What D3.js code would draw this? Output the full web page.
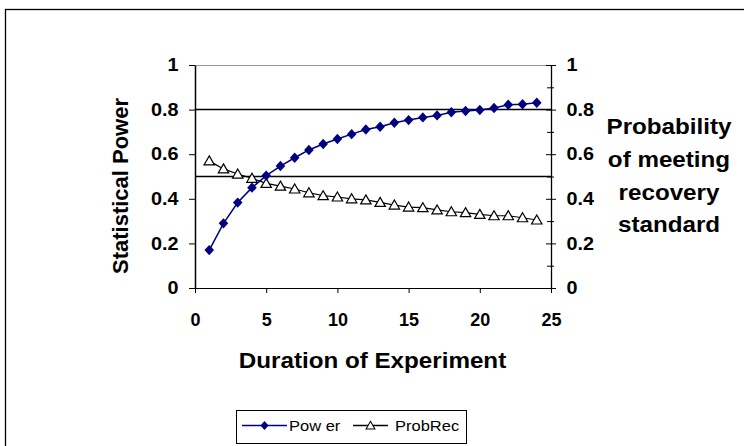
<html>
<head>
    <script src="https://d3js.org/d3.v7.min.js"></script>
    <style type="text/css">
        body { margin: 0; background: #fff; }
        text { font-family: Arial, "Liberation Sans", sans-serif; fill: #000; }
        .tick text { font-size: 18px; font-weight: bold; }
        .domain { stroke: #000; }
    </style>
</head>
<body>
    <svg></svg>
    <script>
        // values
        const durations = d3.range(1, 25);
        const power = [0.170, 0.290, 0.383, 0.450, 0.504, 0.547, 0.584, 0.619, 0.646, 0.668, 0.690, 0.711,
                       0.723, 0.741, 0.753, 0.765, 0.774, 0.788, 0.794, 0.798, 0.807, 0.822, 0.824, 0.831];
        const probRec = [0.570, 0.534, 0.511, 0.492, 0.469, 0.457, 0.444, 0.427, 0.414, 0.408, 0.400, 0.395,
                         0.384, 0.372, 0.363, 0.360, 0.350, 0.342, 0.338, 0.330, 0.324, 0.324, 0.315, 0.305];
        const refLines = [0.8, 0.5];
        const xTicks = [0, 5, 10, 15, 20, 25];
        const yTicks = [0, 0.2, 0.4, 0.6, 0.8, 1];
        const yMinor = [0.1, 0.3, 0.5, 0.7, 0.9];
        const seriesNames = ["Pow er", "ProbRec"];

        const W = 744, H = 446, stretch = 1.1;
        const L = 195, R = 551, T = 65, B = 288;

        const svg = d3.select("svg").attr("width", W).attr("height", H);

        // outer chart border
        svg.append("rect")
            .attr("x", 5.5).attr("y", 9.5).attr("width", 800).attr("height", 500)
            .attr("fill", "#fff").attr("stroke", "#000").attr("stroke-width", 1.3);

        const x = d3.scaleLinear().domain([0, 25]).range([L, R]);
        const y = d3.scaleLinear().domain([0, 1]).range([B, T]);

        // top border of plot area
        svg.append("line")
            .attr("x1", L).attr("x2", R).attr("y1", T + 0.5).attr("y2", T + 0.5)
            .attr("stroke", "#999");

        // horizontal reference lines
        svg.selectAll("line.ref")
            .data(refLines)
            .enter()
            .append("line").classed("ref", true)
                .attr("x1", L).attr("x2", R)
                .attr("y1", (d) => y(d)).attr("y2", (d) => y(d))
                .attr("stroke", "#000").attr("stroke-width", 1.5);

        // x axis
        const gx = svg.append("g")
            .attr("transform", "translate(0," + B + ")")
            .call(d3.axisBottom(x).tickValues(xTicks).tickSize(5).tickPadding(20).tickSizeOuter(0).tickFormat(d3.format("d")));

        // left axis
        const gl = svg.append("g")
            .attr("transform", "translate(" + L + ",0)")
            .call(d3.axisLeft(y).tickValues(yTicks).tickSize(6).tickPadding(9).tickSizeOuter(0)
                .tickFormat((d) => d == 0 || d == 1 ? d : d3.format(".1f")(d)));
        gl.select(".domain").attr("stroke", "#444").attr("stroke-width", 1.5);

        // right axis with minor ticks
        const gr = svg.append("g")
            .attr("transform", "translate(" + R + ",0)")
            .call(d3.axisRight(y).tickValues(yTicks).tickSize(5).tickPadding(9).tickSizeOuter(0)
                .tickFormat((d) => d == 0 || d == 1 ? d : d3.format(".1f")(d)));
        gr.selectAll(".tick line").attr("x1", -5);
        gr.select(".domain").attr("stroke-width", 1.3);
        svg.append("g")
            .attr("transform", "translate(" + R + ",0)")
            .call(d3.axisRight(y).tickValues(yMinor).tickSize(3).tickFormat(""))
            .call((g) => g.select(".domain").remove())
            .selectAll(".tick line").attr("x1", -4);

        svg.selectAll(".tick text").attr("transform", "scale(" + stretch + ",1)");
        gx.selectAll(".tick text").attr("transform", null);
        svg.selectAll(".tick line").attr("stroke", "#000");

        // series lines
        const lineGen = (vals) => d3.line()
            .x((d, i) => x(durations[i]))
            .y((d) => y(d))(vals);

        svg.append("path")
            .attr("d", lineGen(probRec))
            .attr("fill", "none").attr("stroke", "#000").attr("stroke-width", 1.2);
        svg.append("path")
            .attr("d", lineGen(power))
            .attr("fill", "none").attr("stroke", "#000080").attr("stroke-width", 1.5);

        const diamond = "M0,-5.2L4.8,0L0,5.2L-4.8,0Z";
        const triangle = "M0,-5L5.2,4L-5.2,4Z";

        svg.selectAll("path.tri")
            .data(probRec)
            .enter()
            .append("path").classed("tri", true)
                .attr("d", triangle)
                .attr("transform", (d, i) => "translate(" + x(durations[i]) + "," + y(d) + ")")
                .attr("fill", "#fff").attr("stroke", "#000").attr("stroke-width", 1.2);

        svg.selectAll("path.dia")
            .data(power)
            .enter()
            .append("path").classed("dia", true)
                .attr("d", diamond)
                .attr("transform", (d, i) => "translate(" + x(durations[i]) + "," + y(d) + ")")
                .attr("fill", "#000080");

        // axis titles
        svg.append("text")
            .attr("transform", "translate(372.5,368) scale(" + stretch + ",1)")
            .attr("text-anchor", "middle")
            .style("font-size", "22px").style("font-weight", "bold")
            .text("Duration of Experiment");

        svg.append("text")
            .attr("transform", "translate(128,186) rotate(-90)")
            .attr("text-anchor", "middle")
            .style("font-size", "22px").style("font-weight", "bold")
            .text("Statistical Power");

        const rightTitle = ["Probability", "of meeting", "recovery", "standard"];
        svg.selectAll("text.rtitle")
            .data(rightTitle)
            .enter()
            .append("text").classed("rtitle", true)
                .attr("transform", (d, i) => "translate(669," + (134 + i * 32.8) + ") scale(" + stretch + ",1)")
                .attr("text-anchor", "middle")
                .style("font-size", "22px").style("font-weight", "bold")
                .text((d) => d);

        // legend
        const lg = svg.append("g");
        lg.append("rect")
            .attr("x", 236.5).attr("y", 410.5).attr("width", 230).attr("height", 33)
            .attr("fill", "#fff").attr("stroke", "#000");

        const legendItems = [
            { name: seriesNames[0], x1: 242, x2: 287, color: "#000080", shape: diamond, fill: "#000080", tx: 289 },
            { name: seriesNames[1], x1: 353, x2: 388, color: "#000", shape: triangle, fill: "#fff", tx: 395 }
        ];
        const li = lg.selectAll("g.item")
            .data(legendItems)
            .enter()
            .append("g").classed("item", true);
        li.append("line")
            .attr("x1", (d) => d.x1).attr("x2", (d) => d.x2)
            .attr("y1", 425.5).attr("y2", 425.5)
            .attr("stroke", (d) => d.color).attr("stroke-width", 1.3);
        li.append("path")
            .attr("d", (d) => d.shape)
            .attr("transform", (d) => "translate(" + (d.x1 + d.x2) / 2 + ",425.5) scale(0.85)")
            .attr("fill", (d) => d.fill)
            .attr("stroke", (d) => d.fill == "#fff" ? "#000" : "none").attr("stroke-width", 1.2);
        li.append("text")
            .attr("transform", (d) => "translate(" + d.tx + ",431) scale(" + stretch + ",1)")
            .style("font-size", "15px")
            .text((d) => d.name);
    </script>
</body>
</html>
